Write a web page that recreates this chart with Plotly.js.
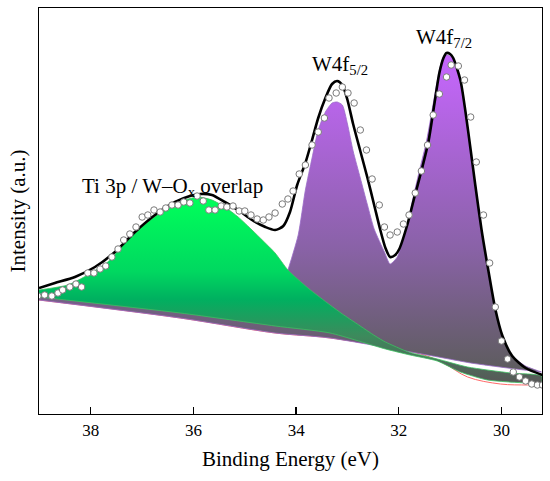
<!DOCTYPE html>
<html>
<head>
<meta charset="utf-8">
<script src="https://cdn.plot.ly/plotly-3.0.1.min.js"></script>
<style>
html,body{margin:0;padding:0;background:#fff;}
#chart{width:550px;height:481px;}
</style>
</head>
<body>
<div id="chart"></div>
<script>
// Measured data (open circles)
const dataEv = [39.03,38.90,38.76,38.64,38.55,38.41,38.29,38.18,38.06,37.94,37.82,37.71,37.59,37.47,37.36,37.24,37.12,37.00,36.89,36.77,36.65,36.54,36.42,36.30,36.19,36.07,35.93,35.81,35.70,35.58,35.46,35.35,35.23,35.11,35.00,34.88,34.76,34.64,34.53,34.41,34.27,34.16,34.06,33.94,33.82,33.69,33.57,33.45,33.36,33.22,33.10,32.99,32.87,32.75,32.63,32.52,32.38,32.28,32.17,32.03,31.91,31.80,31.68,31.56,31.44,31.33,31.21,31.07,30.98,30.84,30.72,30.60,30.49,30.35,30.23,30.12,30.00,29.88,29.77,29.65,29.53,29.41,29.30,29.20];
const dataInt = [29.5,29.75,29.5,30.25,31.0,31.75,32.5,31.75,35.25,35.25,36.25,37.0,39.25,41.25,43.5,45.0,46.75,49.25,49.75,51.0,50.5,51.5,52.25,52.25,53.0,52.75,54.5,53.25,51.0,51.0,52.0,51.75,52.0,50.75,50.75,49.75,48.75,48.5,49.25,50.25,52.5,53.75,55.75,60.0,62.25,67.25,70.5,74.0,79.0,80.25,81.75,80.25,77.75,71.0,66.0,58.75,52.25,46.75,44.75,45.5,47.5,49.75,55.25,60.75,67.25,74.75,80.0,84.25,87.25,87.0,83.5,74.25,63.0,49.75,37.75,26.75,18.25,13.75,10.5,9.25,8.25,7.5,7.25,7.25];

// Fitted envelope (black line)
const envEv = [39.01,38.70,38.31,37.92,37.53,37.14,36.75,36.36,36.07,35.87,35.64,35.39,35.13,34.86,34.60,34.41,34.25,34.12,33.98,33.82,33.69,33.57,33.43,33.30,33.20,33.10,33.00,32.89,32.75,32.61,32.48,32.36,32.26,32.17,32.07,31.99,31.83,31.70,31.56,31.42,31.31,31.21,31.13,31.07,31.00,30.94,30.80,30.70,30.60,30.51,30.39,30.25,30.12,29.98,29.79,29.53,29.20];
const envInt = [31.5,32.75,34.25,36.75,40.5,45.5,49.75,53.0,54.5,55.0,54.75,53.0,51.0,48.5,46.75,46.0,47.0,50.5,57.25,62.75,68.5,74.0,79.0,82.5,83.25,82.25,78.5,72.5,65.75,59.0,52.25,46.0,41.5,39.25,39.75,41.25,47.5,54.0,60.75,68.25,77.25,85.25,89.0,90.25,90.0,89.0,83.5,75.5,66.0,57.25,46.25,35.5,26.25,19.5,14.5,11.5,9.75];

// W4f doublet component (purple)
const w4fEv = [39.01,36.85,34.90,34.66,34.47,34.31,34.16,33.96,33.82,33.69,33.57,33.43,33.30,33.20,33.10,33.00,32.89,32.75,32.61,32.48,32.28,32.17,32.03,31.85,31.74,31.60,31.46,31.33,31.21,31.13,31.07,31.00,30.94,30.80,30.70,30.60,30.51,30.39,30.25,30.12,29.98,29.79,29.53,29.22];
const w4fInt = [30.0,27.0,24.0,24.5,27.0,30.5,36.0,44.75,56.0,64.0,71.0,75.5,77.75,78.0,77.25,72.5,65.75,59.0,52.25,46.25,40.5,37.5,39.25,46.25,53.0,60.75,68.25,77.5,86.0,89.25,89.75,89.5,89.0,83.25,75.25,65.75,57.0,46.0,35.25,26.0,19.25,14.5,12.0,10.5];
const w4fBgEv = [39.01,36.26,34.41,33.34,31.23,30.60,29.73,29.22];
const w4fBgInt = [28.5,24.0,20.25,19.0,14.25,12.75,11.25,10.5];

// Ti 3p / W-Ox component (green)
const tiEv = [39.01,38.45,38.06,37.67,37.28,36.89,36.50,36.17,35.91,35.64,35.39,35.13,34.86,34.66,34.41,34.16,33.77,33.34,33.10,32.81,32.46,32.26,31.81,31.25,30.66,29.82,29.22];
const tiInt = [31.0,32.25,34.75,38.0,43.5,48.0,51.5,53.5,54.25,53.5,51.75,49.25,46.0,43.5,40.25,36.0,31.5,27.25,25.0,22.5,19.5,18.0,15.5,13.75,11.75,10.25,9.5];
const tiBgEv = [39.01,36.26,34.41,33.34,32.26,31.78,31.25,30.80,30.27,29.49,29.22];
const tiBgInt = [29.25,25.25,22.0,20.25,16.25,14.75,13.25,10.5,8.5,7.75,7.75];

// Total background (red line)
const bgEv = [39.01,36.26,34.41,33.34,31.58,31.13,30.66,30.02,29.49,29.22];
const bgInt = [28.5,24.0,20.25,19.0,15.0,12.75,9.25,7.5,7.25,7.25];

const xTicks = [38,36,34,32,30];
const xTickText = ['38','36','34','32','30'];

const polyX = (top, base) => top.concat(base.slice().reverse());

const serif = 'Liberation Serif';

const traces = [
  {x: bgEv, y: bgInt, mode: 'lines', line: {color: '#ff6a6a', width: 1, shape: 'spline'}, hoverinfo: 'skip'},
  {x: polyX(w4fEv, w4fBgEv), y: polyX(w4fInt, w4fBgInt), mode: 'lines', fill: 'toself',
   line: {color: '#9a6cc8', width: 0.8, shape: 'spline', smoothing: 0.6},
   fillgradient: {type: 'vertical', start: 10, stop: 90,
     colorscale: [[0, '#5c5c5c'], [0.4, '#8a62a8'], [1, '#c766ff']]}},
  {x: polyX(tiEv, tiBgEv), y: polyX(tiInt, tiBgInt), mode: 'lines', fill: 'toself',
   line: {color: '#3cc060', width: 0.8, shape: 'spline', smoothing: 0.6},
   fillgradient: {type: 'vertical', start: 8, stop: 54,
     colorscale: [[0, '#585858'], [0.25, '#3d8a5c'], [0.45, '#00b060'], [0.6, '#00d860'], [1, '#00ff5a']]}},
  {x: envEv, y: envInt, mode: 'lines', line: {color: '#000', width: 2.6, shape: 'spline', smoothing: 0.7}},
  {x: dataEv, y: dataInt, mode: 'markers',
   marker: {symbol: 'circle', size: 6.5, color: '#ffffff', line: {color: '#7a7a7a', width: 1}}}
];

const layout = {
  width: 550, height: 481,
  margin: {l: 39, r: 8, t: 8, b: 67},
  paper_bgcolor: '#fff', plot_bgcolor: '#fff',
  showlegend: false,
  font: {family: serif, color: '#000'},
  xaxis: {
    range: [39.01, 29.21],
    tickvals: xTicks, ticktext: xTickText,
    ticks: 'inside', ticklen: 7, tickwidth: 1.3, tickcolor: '#000',
    showline: true, linecolor: '#000', linewidth: 1.3, mirror: true,
    showgrid: false, zeroline: false,
    tickfont: {family: serif, size: 17, color: '#000'},
    title: {text: 'Binding Energy (eV)', font: {family: serif, size: 21, color: '#000'}, standoff: 12}
  },
  yaxis: {
    range: [0, 101.5],
    showticklabels: false, ticks: '',
    showline: true, linecolor: '#000', linewidth: 1.3, mirror: true,
    showgrid: false, zeroline: false,
    title: {text: 'Intensity (a.u.)', font: {family: serif, size: 21, color: '#000'}, standoff: 6}
  },
  annotations: [
    {x: 36.40, y: 56.75, xref: 'x', yref: 'y', text: 'Ti 3p / W–O<sub>x</sub> overlap', showarrow: false,
     xanchor: 'center', yanchor: 'middle', font: {family: serif, size: 21, color: '#000'}},
    {x: 33.14, y: 87.25, xref: 'x', yref: 'y', text: 'W4f<sub>5/2</sub>', showarrow: false,
     xanchor: 'center', yanchor: 'middle', font: {family: serif, size: 21, color: '#000'}},
    {x: 31.11, y: 94.0, xref: 'x', yref: 'y', text: 'W4f<sub>7/2</sub>', showarrow: false,
     xanchor: 'center', yanchor: 'middle', font: {family: serif, size: 21, color: '#000'}}
  ]
};

Plotly.newPlot('chart', traces, layout, {displayModeBar: false, staticPlot: true});
</script>
</body>
</html>
